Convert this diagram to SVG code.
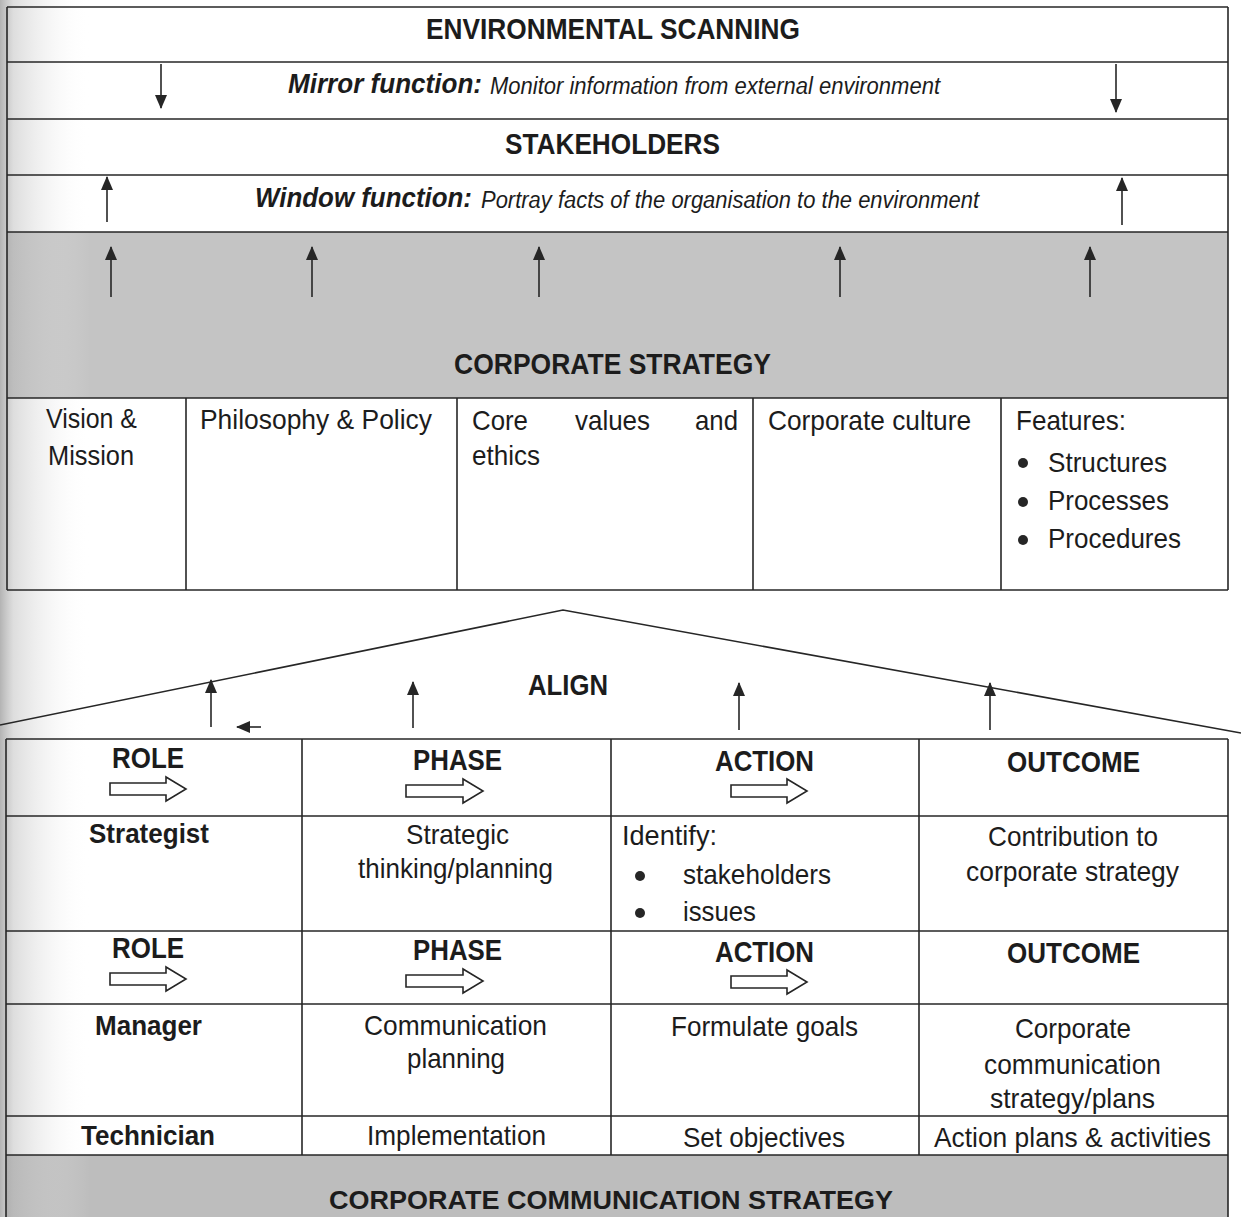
<svg xmlns="http://www.w3.org/2000/svg" width="1241" height="1217" viewBox="0 0 1241 1217">
<style>
.t{font-family:"Liberation Sans",Arial,sans-serif;font-size:28px;fill:#1c1c1c}
.b{font-weight:bold}
.h{font-size:30px}
.i{font-style:italic}
.s{font-size:23px}
.ln{stroke:#262626;stroke-width:1.6;fill:none}
.ar{stroke:#262626;stroke-width:1.6;fill:none;marker-end:url(#ah)}
.blk{stroke:#262626;stroke-width:1.6;fill:#fff}
</style>
<defs>
<marker id="ah" markerUnits="userSpaceOnUse" markerWidth="14" markerHeight="12" viewBox="0 0 14 12" refX="13" refY="6" orient="auto">
<path d="M0,0 L14,6 L0,12 Z" fill="#262626"/>
</marker>
<linearGradient id="edge" x1="0" y1="0" x2="1" y2="0">
<stop offset="0" stop-color="#9a9a9a" stop-opacity="0.75"/>
<stop offset="0.15" stop-color="#b5b5b5" stop-opacity="0.45"/>
<stop offset="1" stop-color="#ffffff" stop-opacity="0"/>
</linearGradient>
</defs>
<rect x="0" y="0" width="1241" height="1217" fill="#ffffff"/>
<rect x="7" y="232" width="1221" height="166" fill="#c4c4c4"/>
<rect x="6" y="1155" width="1222" height="62" fill="#bdbdbd"/>
<rect x="0" y="0" width="90" height="1217" fill="url(#edge)"/>

<g id="env-scanning">
<line class="ln" x1="7" y1="7" x2="1228" y2="7"/>
<text class="t b h" x="426" y="39" textLength="374" lengthAdjust="spacingAndGlyphs">ENVIRONMENTAL SCANNING</text>
</g>
<g id="mirror-function">
<line class="ln" x1="7" y1="62" x2="1228" y2="62"/>
<text class="t b i" x="288" y="93" textLength="194" lengthAdjust="spacingAndGlyphs">Mirror function:</text>
<text class="t i s" x="490" y="94" textLength="450" lengthAdjust="spacingAndGlyphs">Monitor information from external environment</text>
</g>
<g id="stakeholders">
<line class="ln" x1="7" y1="119" x2="1228" y2="119"/>
<text class="t b h" x="505" y="154" textLength="215" lengthAdjust="spacingAndGlyphs">STAKEHOLDERS</text>
</g>
<g id="window-function">
<line class="ln" x1="7" y1="175" x2="1228" y2="175"/>
<text class="t b i" x="255" y="207" textLength="217" lengthAdjust="spacingAndGlyphs">Window function:</text>
<text class="t i s" x="481" y="208" textLength="498" lengthAdjust="spacingAndGlyphs">Portray facts of the organisation to the environment</text>
</g>
<g id="corporate-strategy">
<line class="ln" x1="7" y1="232" x2="1228" y2="232"/>
<line class="ln" x1="7" y1="398" x2="1228" y2="398"/>
<text class="t b h" x="454" y="374" textLength="317" lengthAdjust="spacingAndGlyphs">CORPORATE STRATEGY</text>
</g>
<g id="top-frame">
<line class="ln" x1="7" y1="7" x2="7" y2="590"/>
<line class="ln" x1="1228" y1="7" x2="1228" y2="590"/>
<line class="ln" x1="7" y1="590" x2="1228" y2="590"/>
<line class="ln" x1="186" y1="398" x2="186" y2="590"/>
<line class="ln" x1="457" y1="398" x2="457" y2="590"/>
<line class="ln" x1="753" y1="398" x2="753" y2="590"/>
<line class="ln" x1="1001" y1="398" x2="1001" y2="590"/>
</g>
<g id="vision-mission">
<text class="t" x="46" y="428" textLength="91" lengthAdjust="spacingAndGlyphs">Vision &amp;</text>
<text class="t" x="48" y="465" textLength="86" lengthAdjust="spacingAndGlyphs">Mission</text>
</g>
<g id="philosophy-policy">
<text class="t" x="200" y="429" textLength="232" lengthAdjust="spacingAndGlyphs">Philosophy &amp; Policy</text>
</g>
<g id="core-values">
<text class="t" x="472" y="430" textLength="56" lengthAdjust="spacingAndGlyphs">Core</text>
<text class="t" x="575" y="430" textLength="75" lengthAdjust="spacingAndGlyphs">values</text>
<text class="t" x="695" y="430" textLength="43" lengthAdjust="spacingAndGlyphs">and</text>
<text class="t" x="472" y="465" textLength="68" lengthAdjust="spacingAndGlyphs">ethics</text>
</g>
<g id="corporate-culture">
<text class="t" x="768" y="430" textLength="203" lengthAdjust="spacingAndGlyphs">Corporate culture</text>
</g>
<g id="features">
<text class="t" x="1016" y="430" textLength="110" lengthAdjust="spacingAndGlyphs">Features:</text>
<circle cx="1023" cy="463" r="5" fill="#262626"/>
<circle cx="1023" cy="502" r="5" fill="#262626"/>
<circle cx="1023" cy="540" r="5" fill="#262626"/>
<text class="t" x="1048" y="472" textLength="119" lengthAdjust="spacingAndGlyphs">Structures</text>
<text class="t" x="1048" y="510" textLength="121" lengthAdjust="spacingAndGlyphs">Processes</text>
<text class="t" x="1048" y="548" textLength="133" lengthAdjust="spacingAndGlyphs">Procedures</text>
</g>
<g id="align">
<polyline class="ln" points="0,725 563,610 1241,733"/>
<text class="t b h" x="528" y="695" textLength="80" lengthAdjust="spacingAndGlyphs">ALIGN</text>
</g>

<g id="bottom-frame">
<line class="ln" x1="6" y1="739" x2="1228" y2="739"/>
<line class="ln" x1="6" y1="816" x2="1228" y2="816"/>
<line class="ln" x1="6" y1="931" x2="1228" y2="931"/>
<line class="ln" x1="6" y1="1004" x2="1228" y2="1004"/>
<line class="ln" x1="6" y1="1116" x2="1228" y2="1116"/>
<line class="ln" x1="6" y1="1155" x2="1228" y2="1155"/>
<line class="ln" x1="6" y1="739" x2="6" y2="1217"/>
<line class="ln" x1="1228" y1="739" x2="1228" y2="1217"/>
<line class="ln" x1="302" y1="739" x2="302" y2="1155"/>
<line class="ln" x1="611" y1="739" x2="611" y2="1155"/>
<line class="ln" x1="919" y1="739" x2="919" y2="1155"/>
</g>
<g id="header-row-1">
<text class="t b h" x="112" y="768" textLength="72" lengthAdjust="spacingAndGlyphs">ROLE</text>
<text class="t b h" x="413" y="770" textLength="89" lengthAdjust="spacingAndGlyphs">PHASE</text>
<text class="t b h" x="715" y="771" textLength="99" lengthAdjust="spacingAndGlyphs">ACTION</text>
<text class="t b h" x="1007" y="772" textLength="133" lengthAdjust="spacingAndGlyphs">OUTCOME</text>
<path class="blk" d="M110,783 H166 V777 L186,789 L166,801 V795 H110 Z"/>
<path class="blk" d="M406,785 H463 V779 L483,791 L463,803 V797 H406 Z"/>
<path class="blk" d="M731,785 H787 V779 L807,791 L787,803 V797 H731 Z"/>
</g>
<g id="strategist-row">
<text class="t b" x="89" y="843" textLength="120" lengthAdjust="spacingAndGlyphs">Strategist</text>
<text class="t" x="406" y="844" textLength="103" lengthAdjust="spacingAndGlyphs">Strategic</text>
<text class="t" x="358" y="878" textLength="195" lengthAdjust="spacingAndGlyphs">thinking/planning</text>
<text class="t" x="622" y="845" textLength="95" lengthAdjust="spacingAndGlyphs">Identify:</text>
<circle cx="640" cy="876" r="5" fill="#262626"/>
<circle cx="640" cy="913" r="5" fill="#262626"/>
<text class="t" x="683" y="884" textLength="148" lengthAdjust="spacingAndGlyphs">stakeholders</text>
<text class="t" x="683" y="921" textLength="73" lengthAdjust="spacingAndGlyphs">issues</text>
<text class="t" x="988" y="846" textLength="170" lengthAdjust="spacingAndGlyphs">Contribution to</text>
<text class="t" x="966" y="881" textLength="213" lengthAdjust="spacingAndGlyphs">corporate strategy</text>
</g>
<g id="header-row-2">
<text class="t b h" x="112" y="958" textLength="72" lengthAdjust="spacingAndGlyphs">ROLE</text>
<text class="t b h" x="413" y="960" textLength="89" lengthAdjust="spacingAndGlyphs">PHASE</text>
<text class="t b h" x="715" y="962" textLength="99" lengthAdjust="spacingAndGlyphs">ACTION</text>
<text class="t b h" x="1007" y="963" textLength="133" lengthAdjust="spacingAndGlyphs">OUTCOME</text>
<path class="blk" d="M110,973 H166 V967 L186,979 L166,991 V985 H110 Z"/>
<path class="blk" d="M406,975 H463 V969 L483,981 L463,993 V987 H406 Z"/>
<path class="blk" d="M731,976 H787 V970 L807,982 L787,994 V988 H731 Z"/>
</g>
<g id="manager-row">
<text class="t b" x="95" y="1035" textLength="107" lengthAdjust="spacingAndGlyphs">Manager</text>
<text class="t" x="364" y="1035" textLength="183" lengthAdjust="spacingAndGlyphs">Communication</text>
<text class="t" x="407" y="1068" textLength="98" lengthAdjust="spacingAndGlyphs">planning</text>
<text class="t" x="671" y="1036" textLength="187" lengthAdjust="spacingAndGlyphs">Formulate goals</text>
<text class="t" x="1015" y="1038" textLength="116" lengthAdjust="spacingAndGlyphs">Corporate</text>
<text class="t" x="984" y="1074" textLength="177" lengthAdjust="spacingAndGlyphs">communication</text>
<text class="t" x="990" y="1108" textLength="165" lengthAdjust="spacingAndGlyphs">strategy/plans</text>
</g>
<g id="technician-row">
<text class="t b" x="81" y="1145" textLength="134" lengthAdjust="spacingAndGlyphs">Technician</text>
<text class="t" x="367" y="1145" textLength="179" lengthAdjust="spacingAndGlyphs">Implementation</text>
<text class="t" x="683" y="1147" textLength="162" lengthAdjust="spacingAndGlyphs">Set objectives</text>
<text class="t" x="934" y="1147" textLength="277" lengthAdjust="spacingAndGlyphs">Action plans &amp; activities</text>
</g>
<g id="corporate-communication-strategy">
<text class="t b" x="329" y="1209" style="font-size:26px" textLength="564" lengthAdjust="spacingAndGlyphs">CORPORATE COMMUNICATION STRATEGY</text>
</g>

<g id="connectors">
<line class="ar" x1="161" y1="64" x2="161" y2="108"/>
<line class="ar" x1="1116" y1="64" x2="1116" y2="112"/>
<line class="ar" x1="107" y1="222" x2="107" y2="177"/>
<line class="ar" x1="1122" y1="225" x2="1122" y2="178"/>
<line class="ar" x1="111" y1="297" x2="111" y2="247"/>
<line class="ar" x1="312" y1="297" x2="312" y2="247"/>
<line class="ar" x1="539" y1="297" x2="539" y2="247"/>
<line class="ar" x1="840" y1="297" x2="840" y2="247"/>
<line class="ar" x1="1090" y1="297" x2="1090" y2="247"/>
<line class="ar" x1="211" y1="727" x2="211" y2="680"/>
<line class="ar" x1="413" y1="728" x2="413" y2="682"/>
<line class="ar" x1="739" y1="730" x2="739" y2="683"/>
<line class="ar" x1="990" y1="730" x2="990" y2="683"/>
<line class="ar" x1="261" y1="727" x2="237" y2="727"/>
</g>
</svg>
